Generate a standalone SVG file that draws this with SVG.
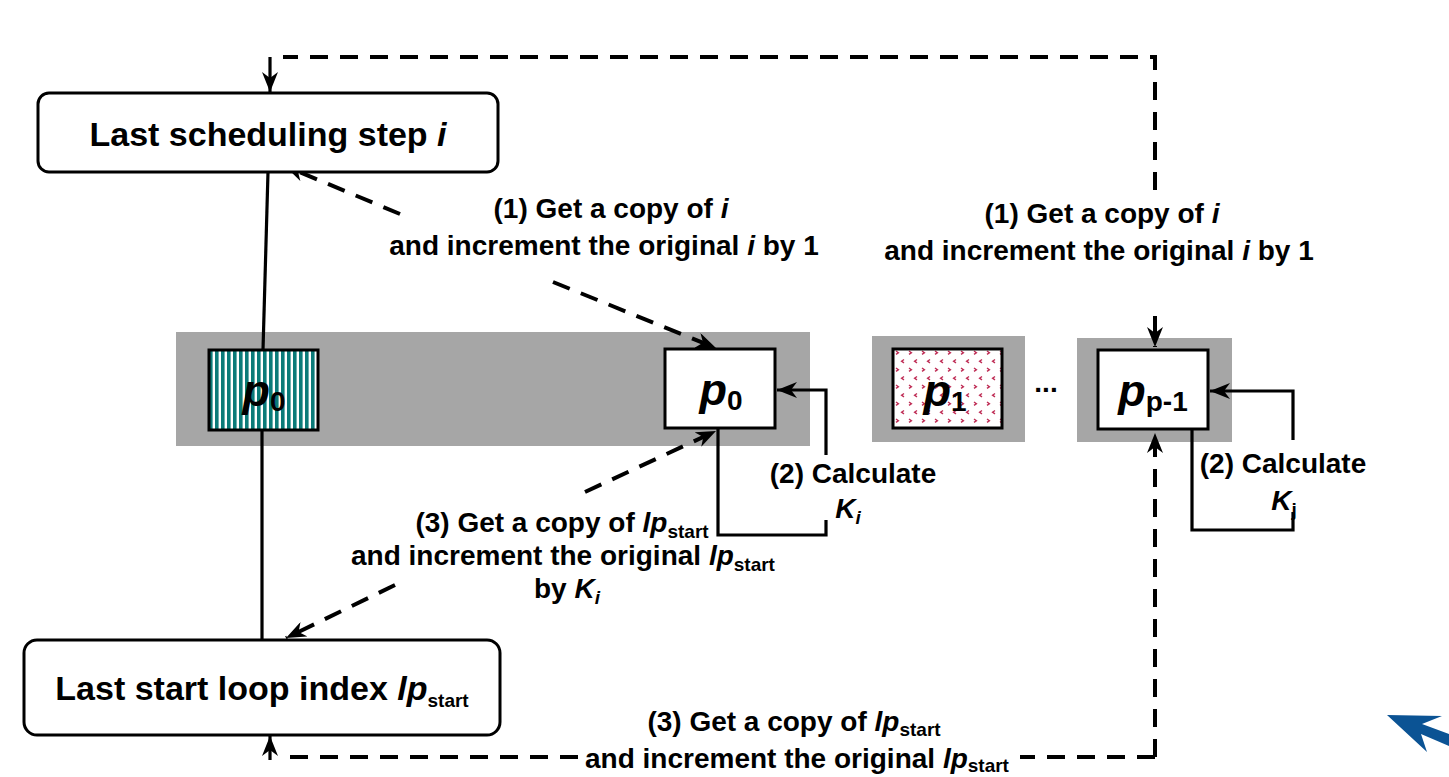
<svg xmlns="http://www.w3.org/2000/svg" width="1449" height="777" viewBox="0 0 1449 777">
  <defs>
    <style>
      .t{font-family:"Liberation Sans",Arial,sans-serif;font-weight:bold;fill:#000}
      .lbl{font-size:28px}
      .big{font-size:34px}
      .pl{font-size:45px}
      .it{font-style:italic}
      .sub{font-size:19px}
      .psub{font-size:28px;font-style:normal}
      .lane{fill:#a6a6a6}
      .node{stroke:#000;stroke-width:3}
      .dash{fill:none;stroke:#000;stroke-width:4;stroke-dasharray:18 12}
      .solid{fill:none;stroke:#000;stroke-width:3.2}
    </style>
    <marker id="ah" markerUnits="userSpaceOnUse" markerWidth="22" markerHeight="16" refX="20" refY="8" orient="auto">
      <path d="M0,0 L20,8 L0,16 L6,8 z" fill="#000"/>
    </marker>
    <pattern id="stripes" width="6" height="10" patternUnits="userSpaceOnUse" x="209">
      <rect width="6" height="10" fill="#fff"/>
      <rect width="3.6" height="10" fill="#0b7b79"/>
    </pattern>
    <pattern id="chev" width="13" height="17" patternUnits="userSpaceOnUse" x="893" y="349">
      <rect width="13" height="17" fill="#fff"/>
      <path d="M3,2 l2.4,1.7 l-2.4,1.7 M11,10.5 l-2.4,1.7 l2.4,1.7" stroke="#bf2c55" stroke-width="1.4" fill="none"/>
    </pattern>
  </defs>

  <rect width="1449" height="777" fill="#fff"/>

  <!-- grey lanes behind the processor boxes -->
  <g id="lanes">
    <rect class="lane" x="176" y="332" width="634" height="114"/>
    <rect class="lane" x="872" y="336" width="153" height="106"/>
    <rect class="lane" x="1077" y="338" width="155" height="104"/>
  </g>

  <!-- connectors -->
  <g id="connectors">
    <!-- shared counter links -->
    <line class="solid" x1="268" y1="172" x2="263" y2="350"/>
    <line class="solid" x1="262" y1="430" x2="262" y2="640"/>

    <!-- top loop back to i -->
    <path class="dash" d="M1155,190 V57 H283"/>
    <line class="solid" x1="270" y1="57" x2="270" y2="92" marker-end="url(#ah)"/>
    <path class="dash" d="M1155,316 V347" marker-end="url(#ah)"/>

    <!-- bottom loop to lp_start -->
    <path class="dash" d="M1155,757 V433" marker-end="url(#ah)"/>
    <path class="dash" d="M1155,757 H1020"/>
    <path class="dash" d="M578,757 H283"/>
    <line class="solid" x1="270" y1="760" x2="270" y2="736" marker-end="url(#ah)"/>

    <!-- (1) p0 <-> i -->
    <path class="dash" d="M400,214 L285,166" marker-end="url(#ah)"/>
    <path class="dash" d="M553,282 L716,348" marker-end="url(#ah)"/>

    <!-- (3) p0 <-> lp_start -->
    <path class="dash" d="M585,492 L716,431" marker-end="url(#ah)"/>
    <path class="dash" d="M395,585 L286,638" marker-end="url(#ah)"/>

    <!-- (2) p0 compute loop -->
    <path class="solid" d="M826,520 V535 H718 V428"/>
    <path class="solid" d="M826,455 V390 H777" marker-end="url(#ah)"/>

    <!-- (2) p(p-1) compute loop -->
    <path class="solid" d="M1293,512 V530 H1192 V430"/>
    <path class="solid" d="M1293,440 V391 H1210" marker-end="url(#ah)"/>
  </g>

  <!-- shared variables -->
  <g id="node-step">
    <rect class="node" x="38" y="93" width="460" height="79" rx="11" fill="#fff"/>
    <text class="t big" x="268" y="146" text-anchor="middle">Last scheduling step <tspan class="it">i</tspan></text>
  </g>
  <g id="node-lpstart">
    <rect class="node" x="24" y="640" width="476" height="95" rx="13" fill="#fff"/>
    <text class="t big" x="262" y="700" text-anchor="middle">Last start loop index <tspan class="it">lp</tspan><tspan class="sub" font-size="22" dy="7">start</tspan></text>
  </g>

  <!-- processors -->
  <g id="node-p0-busy">
    <rect class="node" x="209" y="350" width="109" height="80" fill="url(#stripes)"/>
    <text class="t pl" x="264" y="406" text-anchor="middle"><tspan class="it">p</tspan><tspan class="psub" dy="5">0</tspan></text>
  </g>
  <g id="node-p0">
    <rect class="node" x="665" y="349" width="110" height="79" fill="#fff"/>
    <text class="t pl" x="721" y="405" text-anchor="middle"><tspan class="it">p</tspan><tspan class="psub" dy="5">0</tspan></text>
  </g>
  <g id="node-p1">
    <rect class="node" x="893" y="349" width="109" height="79" fill="url(#chev)"/>
    <text class="t pl" x="945" y="406" text-anchor="middle"><tspan class="it">p</tspan><tspan class="psub" dy="5">1</tspan></text>
  </g>
  <text class="t lbl" x="1046" y="392" text-anchor="middle">...</text>
  <g id="node-pp1">
    <rect class="node" x="1098" y="350" width="110" height="79" fill="#fff"/>
    <text class="t pl" x="1153" y="406" text-anchor="middle"><tspan class="it">p</tspan><tspan class="psub" dy="5">p-1</tspan></text>
  </g>

  <!-- step labels -->
  <g id="labels">
    <text class="t lbl" x="611" y="218" text-anchor="middle">(1) Get a copy  of <tspan class="it">i</tspan></text>
    <text class="t lbl" x="604" y="255" text-anchor="middle">and increment the original <tspan class="it">i</tspan> by 1</text>

    <text class="t lbl" x="1102" y="223" text-anchor="middle">(1) Get a copy  of <tspan class="it">i</tspan></text>
    <text class="t lbl" x="1099" y="260" text-anchor="middle">and increment the original <tspan class="it">i</tspan> by 1</text>

    <text class="t lbl" x="853" y="483" text-anchor="middle">(2) Calculate</text>
    <text class="t lbl" x="848" y="518" text-anchor="middle"><tspan class="it">K</tspan><tspan class="sub it" dy="6">i</tspan></text>

    <text class="t lbl" x="1283" y="473" text-anchor="middle">(2) Calculate</text>
    <text class="t lbl" x="1284" y="510" text-anchor="middle"><tspan class="it">K</tspan><tspan class="sub" dy="6">j</tspan></text>

    <text class="t lbl" x="562" y="532" text-anchor="middle">(3) Get a copy  of <tspan class="it">lp</tspan><tspan class="sub" dy="6">start</tspan></text>
    <text class="t lbl" x="563" y="565" text-anchor="middle">and increment the original <tspan class="it">lp</tspan><tspan class="sub" dy="6">start</tspan></text>
    <text class="t lbl" x="567" y="598" text-anchor="middle">by <tspan class="it">K</tspan><tspan class="sub it" dy="6">i</tspan></text>

    <text class="t lbl" x="794" y="731" text-anchor="middle">(3) Get a copy of <tspan class="it">lp</tspan><tspan class="sub" dy="5">start</tspan></text>
    <text class="t lbl" x="797" y="768" text-anchor="middle">and increment the original <tspan class="it">lp</tspan><tspan class="sub" dy="4">start</tspan></text>
  </g>

  <!-- pointer glyph, lower right -->
  <polygon id="pointer" points="1387,715 1442,716 1422,724 1449,734 1449,746 1421,734 1427,752" fill="#0b5394"/>
</svg>
